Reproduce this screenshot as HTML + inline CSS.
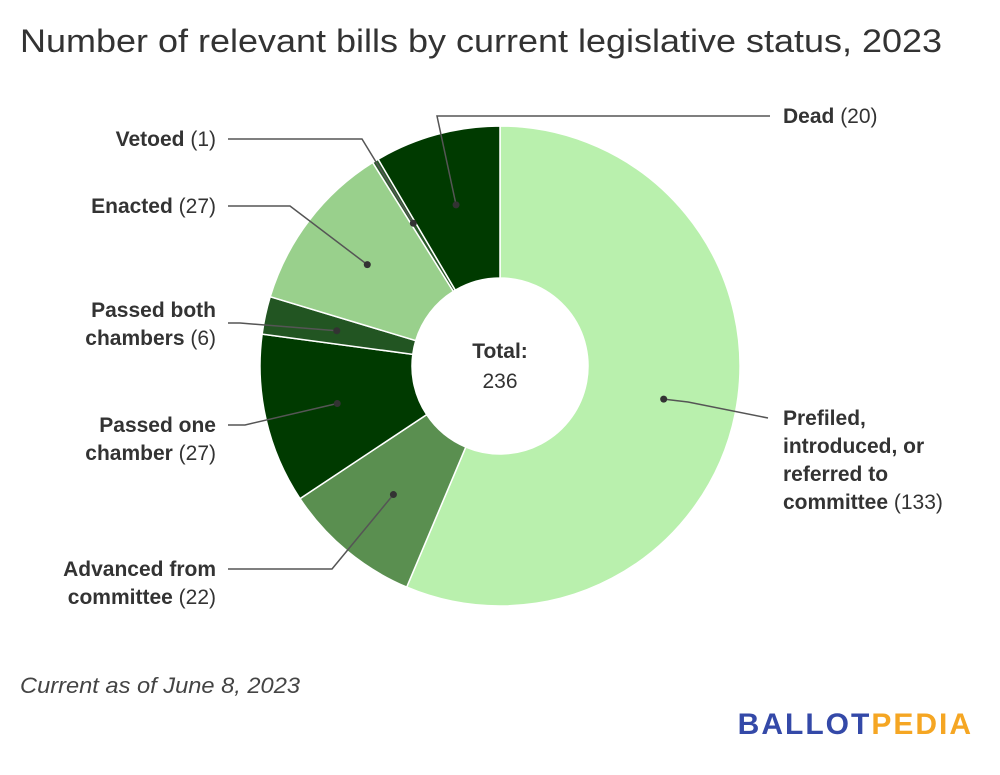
<!DOCTYPE html>
<html><head><meta charset="utf-8"><style>
body{margin:0;background:#fff;width:1000px;height:770px;overflow:hidden;font-family:"Liberation Sans",sans-serif}
svg text{font-family:"Liberation Sans",sans-serif}
</style></head><body>
<svg width="1000" height="770">
<text x="20" y="52" font-size="32" fill="#333" textLength="922" lengthAdjust="spacingAndGlyphs">Number of relevant bills by current legislative status, 2023</text>
<g id="slices"></g>
<g id="leaders"></g>
<text x="500" y="358" text-anchor="middle" font-size="21" font-weight="bold" fill="#333">Total:</text>
<text x="500" y="388" text-anchor="middle" font-size="21" fill="#333">236</text>
<text x="20" y="693" font-size="22" font-style="italic" fill="#444" textLength="280" lengthAdjust="spacingAndGlyphs">Current as of June 8, 2023</text>
<text x="973" y="734" text-anchor="end" font-size="30" font-weight="bold" letter-spacing="2"><tspan fill="#3449a8">BALLOT</tspan><tspan fill="#f5a623">PEDIA</tspan></text>
</svg>
<script>
const categories=["Prefiled, introduced, or referred to committee","Advanced from committee","Passed one chamber","Passed both chambers","Enacted","Vetoed","Dead"];
const values=[133,22,27,6,27,1,20];
const colors=["#b9f0ad","#5a8f50","#003a00","#225522","#99d08c","#2a5a2a","#003a00"];
const labelLines=[["Prefiled,","introduced, or","referred to","committee"],["Advanced from","committee"],["Passed one","chamber"],["Passed both","chambers"],["Enacted"],["Vetoed"],["Dead"]];
const labelPos=[[783,425,"start",768,418,688,402],[216,576,"end",228,569,332,569],[216,432,"end",228,425,245,425],[216,317,"end",228,323,240,323],[216,213,"end",228,206,290,206],[216,146,"end",228,139,362,139],[783,123,"start",770,116,437,116]];
const NS="http://www.w3.org/2000/svg";
const cx=500,cy=366,R=240,r=88,Rd=167;
const total=values.reduce((a,b)=>a+b,0);
const gS=document.getElementById('slices'),gL=document.getElementById('leaders');
function pt(a,rad){return [cx+rad*Math.sin(a),cy-rad*Math.cos(a)];}
let acc=0;
values.forEach((v,i)=>{
  const a0=acc/total*2*Math.PI;acc+=v;const a1=acc/total*2*Math.PI;
  const large=(a1-a0)>Math.PI?1:0;
  const p0=pt(a0,R),p1=pt(a1,R),q1=pt(a1,r),q0=pt(a0,r);
  const p=document.createElementNS(NS,'path');
  p.setAttribute('d',`M${p0[0]},${p0[1]}A${R},${R} 0 ${large} 1 ${p1[0]},${p1[1]}L${q1[0]},${q1[1]}A${r},${r} 0 ${large} 0 ${q0[0]},${q0[1]}Z`);
  p.setAttribute('fill',colors[i]);p.setAttribute('stroke','#fff');p.setAttribute('stroke-width','1.5');
  
  
  gS.appendChild(p);
  const am=(a0+a1)/2,d=pt(am,Rd),L=labelPos[i];
  const pl=document.createElementNS(NS,'polyline');
  pl.setAttribute('points',`${d[0]},${d[1]} ${L[5]},${L[6]} ${L[3]},${L[4]}`);
  pl.setAttribute('fill','none');pl.setAttribute('stroke','#555');pl.setAttribute('stroke-width','1.5');
  
  
  gL.appendChild(pl);
  const c=document.createElementNS(NS,'circle');
  c.setAttribute('cx',d[0]);c.setAttribute('cy',d[1]);c.setAttribute('r','3.5');c.setAttribute('fill','#333');
  
  
  gL.appendChild(c);
  const t=document.createElementNS(NS,'text');
  t.setAttribute('x',L[0]);t.setAttribute('y',L[1]);t.setAttribute('text-anchor',L[2]);t.setAttribute('font-size','21');t.setAttribute('fill','#333');
  
  
  const lines=labelLines[i];
  lines.forEach((ln,k)=>{
    const ts=document.createElementNS(NS,'tspan');
    ts.setAttribute('x',L[0]);ts.setAttribute('dy',k?28:0);
    ts.setAttribute('font-weight','bold');ts.textContent=ln;
    t.appendChild(ts);
    if(k===lines.length-1){const tc=document.createElementNS(NS,'tspan');tc.textContent=' ('+v+')';t.appendChild(tc);}
  });
  gL.appendChild(t);
});
</script>
</body></html>
